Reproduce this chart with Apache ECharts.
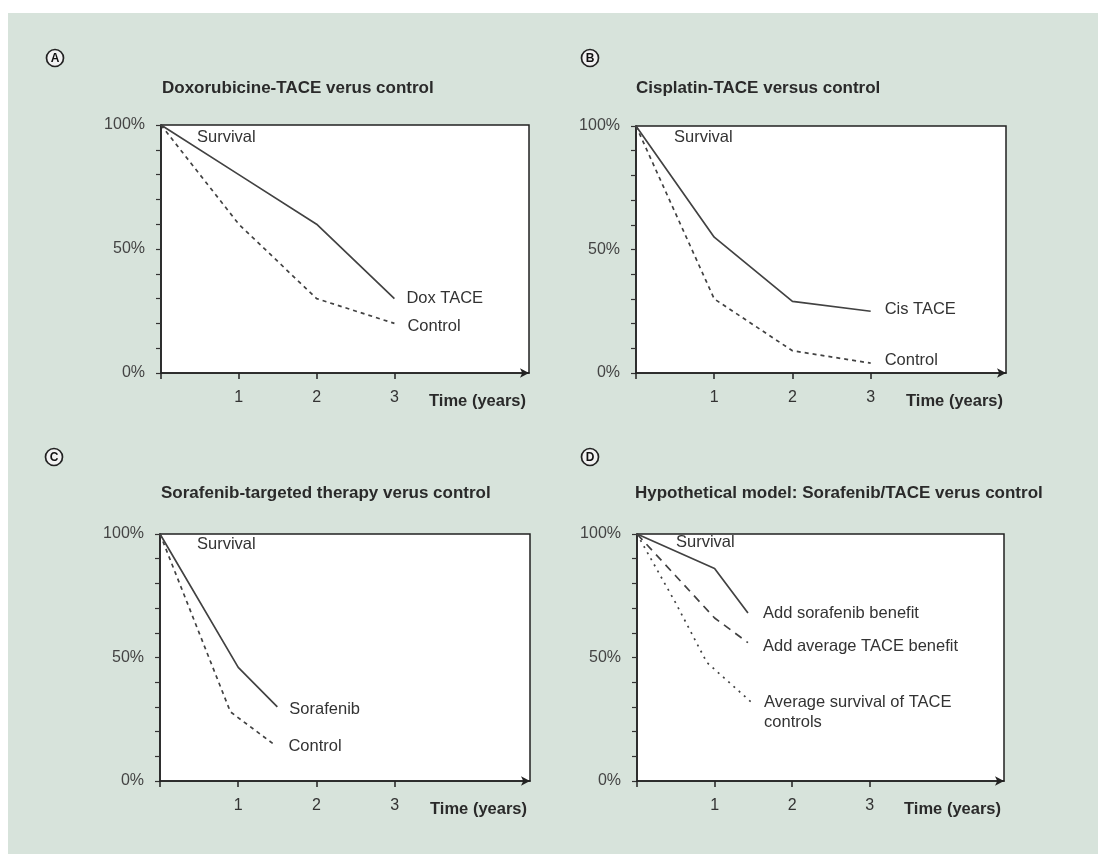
<!DOCTYPE html>
<html>
<head>
<meta charset="utf-8">
<script src="https://cdn.jsdelivr.net/npm/echarts@6/dist/echarts.min.js"></script>
<style>
  html, body { margin: 0; padding: 0; background: #fff; }
  #chart { width: 1098px; height: 854px; }
</style>
</head>
<body>
<div id="chart"></div>
<script>
// panel A - doxorubicine TACE
const doxYears = [0, 1, 2, 3];
const doxTace = [100, 80, 60, 30];
const doxControl = [100, 60, 30, 20];

// panel B - cisplatin TACE
const cisYears = [0, 1, 2, 3];
const cisTace = [100, 55, 29, 25];
const cisControl = [100, 30, 9, 4];

// panel C - sorafenib
const sorYears = [0, 1, 1.5];
const sorafenib = [100, 46, 30];
const sorCtrlYears = [0, 0.9, 1.45];
const sorControl = [100, 28, 15];

// panel D - hypothetical model
const hypSorYears = [0, 1, 1.43];
const hypSorafenib = [100, 86, 68];
const hypTaceYears = [0, 0.5, 1, 1.43];
const hypTace = [100, 83, 66, 56];
const hypCtrlYears = [0, 0.5, 0.9, 1.47];
const hypControl = [100, 72, 48, 32];

const yTicks = [0, 50, 100];
const xTickLabels = [1, 2, 3];

const TXT = '#333';
const LINE = '#424242';
const FONT = 'Liberation Sans, Arial, sans-serif';

const zip = (xs, ys) => xs.map((x, i) => [x, ys[i]]);

const grids = [
    { left: 161, top: 125, width: 368, height: 248 },
    { left: 636, top: 126, width: 370, height: 247 },
    { left: 160, top: 534, width: 370, height: 247 },
    { left: 637, top: 534, width: 367, height: 247 }
];

const xAxes = grids.map((g, i) => ({
    type: 'value', gridIndex: i, min: 0, max: 4.73,
    axisLine: { show: true, lineStyle: { color: '#222', width: 1.5 }, symbol: ['none', 'arrow'], symbolSize: [7, 9] },
    axisTick: { show: true, inside: false, length: 6, customValues: [0, 1, 2, 3], lineStyle: { color: '#222', width: 1.5 } },
    axisLabel: { customValues: xTickLabels, margin: 17, color: TXT, fontSize: 16, fontFamily: FONT },
    splitLine: { show: false }
}));

const yAxes = grids.map((g, i) => ({
    type: 'value', gridIndex: i, min: 0, max: 100, interval: 10,
    axisLine: { show: true, lineStyle: { color: '#222', width: 1.5 } },
    axisTick: { show: true, inside: false, length: 5, lineStyle: { color: '#333', width: 1.2 } },
    axisLabel: {
        margin: 16, color: '#444', fontSize: 16, fontFamily: FONT,
        formatter: v => yTicks.indexOf(v) >= 0 ? v + '%' : ''
    },
    splitLine: { show: false }
}));

function line(name, idx, data, dash, offset) {
    return {
        type: 'line', name: name, xAxisIndex: idx, yAxisIndex: idx,
        data: data, showSymbol: false, silent: true,
        lineStyle: { color: LINE, width: 1.7, type: dash || 'solid' },
        endLabel: {
            show: true, formatter: name, color: TXT, fontSize: 16.5, fontFamily: FONT,
            lineHeight: 20, offset: offset || [6, 0]
        }
    };
}

const series = [
    line('Dox TACE', 0, zip(doxYears, doxTace), 'solid', [4, 0]),
    line('Control', 0, zip(doxYears, doxControl), [4, 4], [5, 3]),
    line('Cis TACE', 1, zip(cisYears, cisTace), 'solid', [6, -2]),
    line('Control', 1, zip(cisYears, cisControl), [4, 4], [6, -3]),
    line('Sorafenib', 2, zip(sorYears, sorafenib), 'solid', [4, 3]),
    line('Control', 2, zip(sorCtrlYears, sorControl), [4, 4], [7, 3]),
    line('Add sorafenib benefit', 3, zip(hypSorYears, hypSorafenib), 'solid', [7, 0]),
    line('Add average TACE benefit', 3, zip(hypTaceYears, hypTace), [8, 6], [7, 4]),
    line('Average survival of TACE\ncontrols', 3, zip(hypCtrlYears, hypControl), [2, 5], [5, 10])
];

const titles = [
    { text: 'Doxorubicine-TACE verus control', left: 162, top: 79 },
    { text: 'Cisplatin-TACE versus control', left: 636, top: 79 },
    { text: 'Sorafenib-targeted therapy verus control', left: 161, top: 484 },
    { text: 'Hypothetical model: Sorafenib/TACE verus control', left: 635, top: 484 }
].map(t => Object.assign(t, {
    padding: 0,
    textStyle: { color: '#2a2a2a', fontSize: 17, fontWeight: 'bold', fontFamily: FONT, lineHeight: 19 }
}));

const letters = [
    { ch: 'A', x: 55, y: 58 },
    { ch: 'B', x: 590, y: 58 },
    { ch: 'C', x: 54, y: 457 },
    { ch: 'D', x: 590, y: 457 }
];

const survivalPos = [[197, 137], [674, 137], [197, 544], [676, 542]];

const graphics = [
    { type: 'rect', shape: { x: 8, y: 13, width: 1090, height: 841 }, style: { fill: '#d7e3db' }, z: -10 }
];
letters.forEach(l => {
    graphics.push({ type: 'circle', shape: { cx: l.x, cy: l.y, r: 8.5 }, style: { fill: '#f2f2f2', stroke: '#222', lineWidth: 1.7 } });
    graphics.push({ type: 'text', x: l.x, y: l.y + 0.5, style: { text: l.ch, fill: '#111', font: 'bold 12px ' + FONT, textAlign: 'center', textVerticalAlign: 'middle' } });
});
survivalPos.forEach(p => {
    graphics.push({ type: 'text', x: p[0], y: p[1], style: { text: 'Survival', fill: TXT, font: '16.5px ' + FONT, textVerticalAlign: 'middle' } });
});
grids.forEach(g => {
    graphics.push({ type: 'text', x: g.left + g.width - 3, y: g.top + g.height + 28, style: { text: 'Time (years)', fill: '#2a2a2a', font: 'bold 16.5px ' + FONT, textAlign: 'right', textVerticalAlign: 'middle' } });
});

const chart = echarts.init(document.getElementById('chart'));
chart.setOption({
    backgroundColor: '#fff',
    animation: false,
    title: titles,
    grid: grids.map(g => Object.assign({}, g, { show: true, backgroundColor: '#fff', borderColor: '#222', borderWidth: 1.5 })),
    xAxis: xAxes,
    yAxis: yAxes,
    series: series,
    graphic: graphics
});
</script>
</body>
</html>
